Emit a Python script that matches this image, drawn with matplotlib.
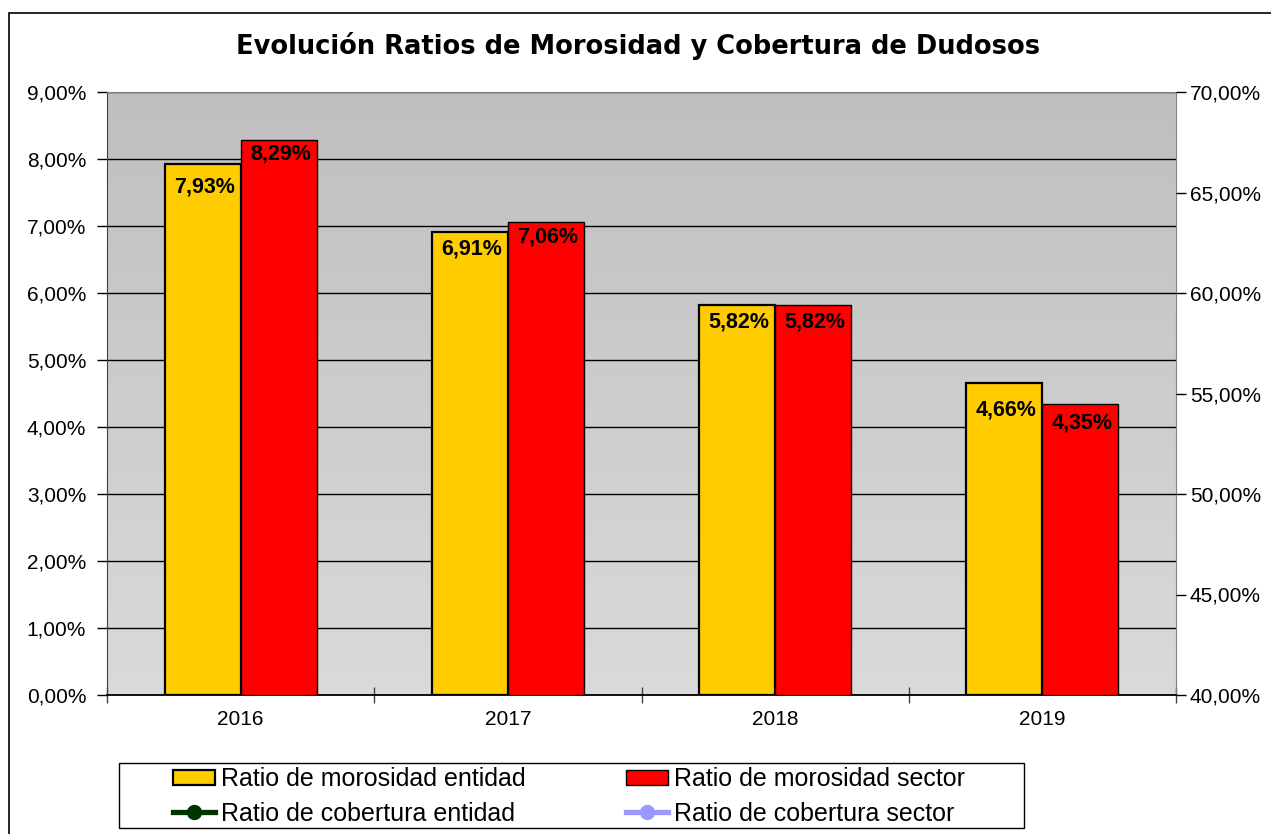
import matplotlib
matplotlib.use("Agg")
import matplotlib.pyplot as plt
import numpy as np
from matplotlib.patches import Rectangle, Patch
from matplotlib.lines import Line2D
from matplotlib.ticker import FuncFormatter, MultipleLocator
from matplotlib.colors import LinearSegmentedColormap

years = ["2016", "2017", "2018", "2019"]
morosidad_entidad = [7.93, 6.91, 5.82, 4.66]
morosidad_sector = [8.29, 7.06, 5.82, 4.35]
title = "Evolución Ratios de Morosidad y Cobertura de Dudosos"
legend_labels = ["Ratio de morosidad entidad", "Ratio de morosidad sector",
                 "Ratio de cobertura entidad", "Ratio de cobertura sector"]

# label placement offsets (pixels below bar top, to label centre)
label_dy_entidad = [23, 17, 17, 27]
label_dy_sector = [14, 15, 17, 19]

W, H = 1271, 834
fig = plt.figure(figsize=(W / 100, H / 100), dpi=100)
fig.patch.set_facecolor("white")

# outer chart border
fig.add_artist(Rectangle((9 / W, 1 - 900 / H), 1300 / W, (900 - 13) / H,
                         transform=fig.transFigure, fill=False, ec="black", lw=1.2))

L, R, T, B = 107, 1176, 92, 695
ax = fig.add_axes([L / W, 1 - B / H, (R - L) / W, (B - T) / H])

# gradient background (dark at top, light at bottom)
grad = np.linspace(0, 1, 256).reshape(-1, 1)
cmap = LinearSegmentedColormap.from_list("g", ["#DADADA", "#BFBFBF"])
ax.imshow(grad, aspect="auto", cmap=cmap, extent=[0, 4, 0, 9], zorder=0,
          origin="lower")
ax.set_xlim(0, 4)
ax.set_ylim(0, 9)

x = np.arange(len(years)) + 0.5
bw = 76 / 267.25
ax.bar(x - bw / 2, morosidad_entidad, bw, color="#FFCC00", edgecolor="black", lw=1.6, zorder=3)
ax.bar(x + bw / 2, morosidad_sector, bw, color="#FF0000", edgecolor="black", lw=1.0, zorder=3)

def fmt(v):
    return f"{v:.2f}%".replace(".", ",")

px2pt = 72 / 100
for xs, vals, dys in ((x - bw / 2, morosidad_entidad, label_dy_entidad),
                      (x + bw / 2, morosidad_sector, label_dy_sector)):
    for xi, v, dy in zip(xs, vals, dys):
        ax.annotate(fmt(v), (xi, v), xytext=(2 * px2pt, -dy * px2pt), textcoords="offset points",
                    ha="center", va="center", fontsize=15.5, fontweight="bold",
                    family="Liberation Sans", zorder=5)

ax.yaxis.set_major_locator(MultipleLocator(1))
ax.yaxis.set_major_formatter(FuncFormatter(lambda v, p: fmt(v)))
ax.grid(axis="y", color="black", lw=1.0, zorder=1)
ax.set_axisbelow(True)

ax.set_xticks(np.arange(0, 5))
ax.set_xticklabels([])
ax.set_xticks(x, minor=True)
ax.set_xticklabels(years, minor=True)
ax.tick_params(axis="x", which="major", direction="inout", length=12, width=1, color="#404040")
ax.tick_params(axis="x", which="minor", length=0, pad=11, labelsize=15)
ax.tick_params(axis="y", direction="out", length=7, width=1, labelsize=15, pad=8)
for lab in ax.get_xticklabels(minor=True) + ax.get_yticklabels():
    lab.set_family("Liberation Sans")

ax.spines["left"].set_color("#404040")
ax.spines["top"].set_color("#808080")
ax.spines["right"].set_color("#808080")
ax.spines["bottom"].set_color("black")
ax.spines["bottom"].set_linewidth(1.3)

ax2 = ax.twinx()
ax2.set_ylim(40, 70)
ax2.yaxis.set_major_locator(MultipleLocator(5))
ax2.yaxis.set_major_formatter(FuncFormatter(lambda v, p: fmt(v)))
ax2.tick_params(axis="y", direction="out", length=7, width=1, labelsize=15, pad=3)
for lab in ax2.get_yticklabels():
    lab.set_family("Liberation Sans")
for s in ax2.spines.values():
    s.set_visible(False)

fig.text(638 / W, 1 - 46 / H, title, ha="center", va="center", fontsize=18.5,
         fontweight="bold", family="DejaVu Sans")

# legend box
fig.add_artist(Rectangle((119 / W, 1 - 828 / H), (1024 - 119) / W, (828 - 763) / H,
                         transform=fig.transFigure, fill=False, ec="black", lw=1.0))
handles = [Patch(facecolor="#FFCC00", edgecolor="black", lw=1.6),
           Line2D([0], [0], color="#003300", lw=3.8, marker="o", markersize=10),
           Patch(facecolor="#FF0000", edgecolor="black", lw=1.0),
           Line2D([0], [0], color="#9999FF", lw=3.8, marker="o", markersize=10)]
labels = [legend_labels[0], legend_labels[2], legend_labels[1], legend_labels[3]]
leg = fig.legend(handles, labels, loc="center left", ncol=2,
                 bbox_to_anchor=(173 / W, 1 - 796.5 / H), frameon=False,
                 prop={"family": "Liberation Sans", "size": 18},
                 handlelength=1.68, handleheight=0.6, handletextpad=0.24,
                 columnspacing=4.0, labelspacing=0.42, borderpad=0, borderaxespad=0)

fig.savefig("out.png", dpi=100, facecolor="white")
